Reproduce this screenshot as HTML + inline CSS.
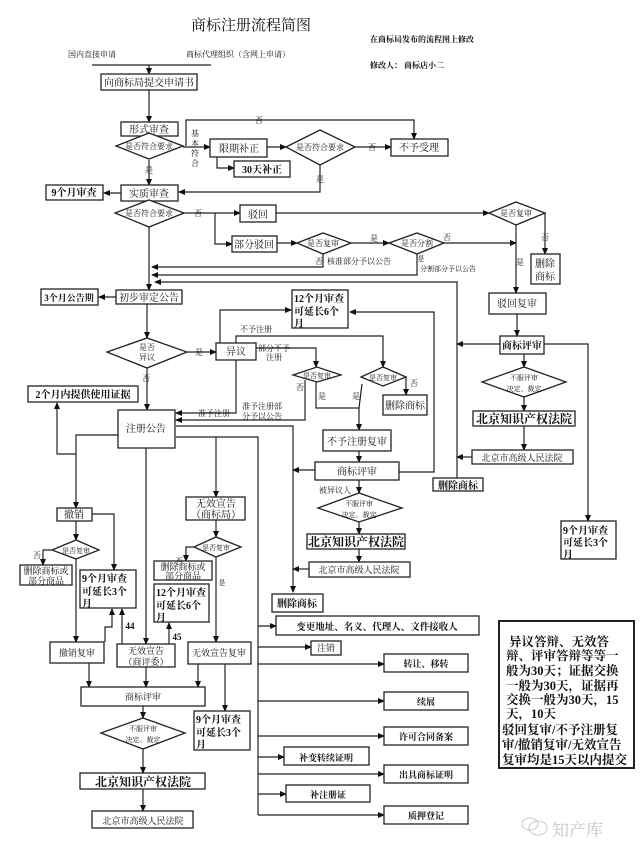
<!DOCTYPE html>
<html><head><meta charset="utf-8"><style>
html,body{margin:0;padding:0;background:#fff;}
svg{display:block;}
text{font-family:"Liberation Serif","Noto Serif CJK SC",serif;fill:#111;}
.b{font-weight:bold;}
</style></head><body>
<svg width="640" height="858" viewBox="0 0 640 858" xmlns="http://www.w3.org/2000/svg">
<defs><marker id="a" markerWidth="7" markerHeight="7" refX="6" refY="3.5" orient="auto" markerUnits="userSpaceOnUse"><path d="M0,0.5 L7,3.5 L0,6.5z" fill="#111"/></marker></defs>
<g fill="none" stroke="#222" stroke-width="1.2">
<!-- top -->
<line x1="92" y1="65" x2="211" y2="65"/>
<line x1="149" y1="65" x2="149" y2="74" marker-end="url(#a)"/>
<line x1="149" y1="90" x2="149" y2="122" marker-end="url(#a)"/>
<line x1="149" y1="136" x2="149" y2="133"/>
<polyline points="186,146 186,120 414,120 414,139" marker-end="url(#a)"/>
<line x1="183" y1="147" x2="210" y2="147" marker-end="url(#a)"/>
<line x1="267" y1="147" x2="286" y2="147" marker-end="url(#a)"/>
<line x1="355" y1="147" x2="391" y2="147" marker-end="url(#a)"/>
<polyline points="217,157 217,168 234,168" marker-end="url(#a)"/>
<polyline points="320,165 320,192 179,192" marker-end="url(#a)"/>
<line x1="149" y1="160" x2="149" y2="185" marker-end="url(#a)"/>
<line x1="121" y1="193" x2="104" y2="193" marker-end="url(#a)"/>
<line x1="149" y1="201" x2="149" y2="200"/>
<line x1="184" y1="213" x2="240" y2="213" marker-end="url(#a)"/>
<polyline points="215,213 215,244 232,244" marker-end="url(#a)"/>
<line x1="276" y1="213" x2="489" y2="213" marker-end="url(#a)"/>
<line x1="277" y1="243" x2="297" y2="243" marker-end="url(#a)"/>
<line x1="351" y1="243" x2="389" y2="243" marker-end="url(#a)"/>
<line x1="444" y1="243" x2="516" y2="243" marker-end="url(#a)"/>
<polyline points="323,254 323,267 152,267" marker-end="url(#a)"/>
<polyline points="417,254 417,275 152,275" marker-end="url(#a)"/>
<polyline points="457,478 457,282 155,282" marker-end="url(#a)"/>
<line x1="149" y1="227" x2="149" y2="290" marker-end="url(#a)"/>
<polyline points="545,213 545,254" marker-end="url(#a)"/>
<line x1="516" y1="225" x2="516" y2="293" marker-end="url(#a)"/>
<line x1="517" y1="314" x2="517" y2="336" marker-end="url(#a)"/>
<line x1="500" y1="344" x2="457" y2="344" marker-end="url(#a)"/>
<polyline points="544,344 588,344 588,521" marker-end="url(#a)"/>
<line x1="524" y1="354" x2="524" y2="367" marker-end="url(#a)"/>
<line x1="524" y1="397" x2="524" y2="411" marker-end="url(#a)"/>
<line x1="524" y1="426" x2="524" y2="450" marker-end="url(#a)"/>
<line x1="472" y1="457" x2="457" y2="457" marker-end="url(#a)"/>
<!-- middle -->
<line x1="116" y1="297" x2="99" y2="297" marker-end="url(#a)"/>
<line x1="147" y1="304" x2="147" y2="338" marker-end="url(#a)"/>
<line x1="187" y1="352" x2="216" y2="352" marker-end="url(#a)"/>
<line x1="147" y1="368" x2="147" y2="410" marker-end="url(#a)"/>
<polyline points="220,343 220,310 291,310" marker-end="url(#a)"/>
<polyline points="236,343 236,336 383,336 383,367" marker-end="url(#a)"/>
<polyline points="256,348 316,348 316,367" marker-end="url(#a)"/>
<polyline points="305,380 305,420 176,420" marker-end="url(#a)"/>
<polyline points="316,382 316,408 359,408 359,430" marker-end="url(#a)"/>
<line x1="362" y1="384" x2="359" y2="408"/>
<polyline points="406,377 406,395" marker-end="url(#a)"/>
<polyline points="236,360 236,413 176,413" marker-end="url(#a)"/>
<line x1="359" y1="451" x2="359" y2="462" marker-end="url(#a)"/>
<polyline points="399,472 434,472 434,312 350,312" marker-end="url(#a)"/>
<line x1="315" y1="470" x2="293" y2="470" marker-end="url(#a)"/>
<line x1="359" y1="480" x2="359" y2="493" marker-end="url(#a)"/>
<line x1="359" y1="522" x2="359" y2="534" marker-end="url(#a)"/>
<line x1="359" y1="549" x2="359" y2="562" marker-end="url(#a)"/>
<line x1="309" y1="569" x2="293" y2="569" marker-end="url(#a)"/>
<polyline points="176,426 293,426 293,592" marker-end="url(#a)"/>
<polyline points="176,437 258,437 258,815"/>
<polyline points="216,437 216,497" marker-end="url(#a)"/>
<polyline points="118,435 76,435 76,508" marker-end="url(#a)"/>
<polyline points="76,454 57,454 57,403" marker-end="url(#a)"/>
<line x1="146" y1="448" x2="146" y2="644" marker-end="url(#a)"/>
<!-- bottom left -->
<line x1="76" y1="521" x2="76" y2="540" marker-end="url(#a)"/>
<polyline points="92,514 114,514 114,570" marker-end="url(#a)"/>
<polyline points="52,550 43,550 43,565" marker-end="url(#a)"/>
<line x1="76" y1="559" x2="76" y2="642" marker-end="url(#a)"/>
<polyline points="105,642 105,627 112,627 112,609" marker-end="url(#a)"/>
<line x1="122" y1="644" x2="122" y2="609" marker-end="url(#a)"/>
<line x1="169" y1="644" x2="169" y2="623" marker-end="url(#a)"/>
<line x1="216" y1="520" x2="216" y2="537" marker-end="url(#a)"/>
<polyline points="194,547 186,547 186,561" marker-end="url(#a)"/>
<line x1="216" y1="557" x2="216" y2="642" marker-end="url(#a)"/>
<line x1="89" y1="663" x2="89" y2="687" marker-end="url(#a)"/>
<line x1="146" y1="667" x2="146" y2="687" marker-end="url(#a)"/>
<line x1="198" y1="664" x2="198" y2="687" marker-end="url(#a)"/>
<line x1="225" y1="664" x2="225" y2="711" marker-end="url(#a)"/>
<line x1="143" y1="706" x2="143" y2="718" marker-end="url(#a)"/>
<line x1="143" y1="749" x2="143" y2="773" marker-end="url(#a)"/>
<line x1="143" y1="789" x2="143" y2="811" marker-end="url(#a)"/>
<!-- branches -->
<line x1="258" y1="626" x2="276" y2="626" marker-end="url(#a)"/>
<line x1="258" y1="647" x2="311" y2="647" marker-end="url(#a)"/>
<line x1="258" y1="664" x2="384" y2="664" marker-end="url(#a)"/>
<line x1="258" y1="701" x2="384" y2="701" marker-end="url(#a)"/>
<line x1="258" y1="736" x2="384" y2="736" marker-end="url(#a)"/>
<line x1="258" y1="757" x2="284" y2="757" marker-end="url(#a)"/>
<line x1="258" y1="774" x2="384" y2="774" marker-end="url(#a)"/>
<line x1="258" y1="794" x2="286" y2="794" marker-end="url(#a)"/>
<line x1="258" y1="815" x2="384" y2="815" marker-end="url(#a)"/>
</g>
<!-- boxes -->
<g fill="#fff" stroke="#222" stroke-width="1.3">
<rect x="101" y="74" width="96" height="16"/>
<rect x="121" y="122" width="57" height="14"/>
<rect x="210" y="139" width="57" height="18"/>
<rect x="234" y="161" width="56" height="16"/>
<rect x="391" y="139" width="57" height="17"/>
<rect x="121" y="185" width="57" height="16"/>
<rect x="46" y="185" width="57" height="15"/>
<rect x="240" y="205" width="36" height="17"/>
<rect x="232" y="236" width="45" height="16"/>
<rect x="531" y="254" width="29" height="30"/>
<rect x="41" y="289" width="57" height="16"/>
<rect x="116" y="290" width="66" height="14"/>
<rect x="292" y="290" width="56" height="38"/>
<rect x="489" y="293" width="57" height="21"/>
<rect x="500" y="336" width="44" height="18"/>
<rect x="216" y="343" width="40" height="17"/>
<rect x="28" y="386" width="110" height="16"/>
<rect x="383" y="395" width="44" height="20"/>
<rect x="473" y="411" width="102" height="15"/>
<rect x="118" y="410" width="57" height="38"/>
<rect x="323" y="430" width="68" height="21"/>
<rect x="472" y="450" width="101" height="14"/>
<rect x="315" y="462" width="84" height="18"/>
<rect x="433" y="478" width="50" height="13"/>
<rect x="186" y="497" width="59" height="23"/>
<rect x="57" y="508" width="35" height="13"/>
<rect x="561" y="521" width="55" height="38"/>
<rect x="307" y="534" width="98" height="15"/>
<rect x="20" y="565" width="52" height="20"/>
<rect x="154" y="561" width="58" height="19"/>
<rect x="309" y="562" width="101" height="15"/>
<rect x="80" y="570" width="56" height="38"/>
<rect x="154" y="584" width="55" height="38"/>
<rect x="272" y="594" width="51" height="18"/>
<rect x="276" y="616" width="203" height="19"/>
<rect x="311" y="641" width="30" height="14"/>
<rect x="50" y="642" width="54" height="21"/>
<rect x="117" y="644" width="58" height="23"/>
<rect x="188" y="642" width="63" height="22"/>
<rect x="384" y="654" width="84" height="18"/>
<rect x="81" y="687" width="124" height="19"/>
<rect x="384" y="692" width="84" height="18"/>
<rect x="194" y="711" width="56" height="39"/>
<rect x="384" y="727" width="84" height="18"/>
<rect x="284" y="747" width="85" height="18"/>
<rect x="384" y="765" width="84" height="18"/>
<rect x="80" y="773" width="125" height="16"/>
<rect x="286" y="785" width="84" height="17"/>
<rect x="384" y="806" width="84" height="18"/>
<rect x="92" y="811" width="101" height="17"/>
<rect x="499" y="621" width="135" height="147" stroke-width="2"/>
<!-- diamonds -->
<polygon points="116,146 149,133 183,146 149,159"/>
<polygon points="286,147 320,130 355,147 320,165"/>
<polygon points="115,213 149,200 184,213 149,227"/>
<polygon points="489,213 516,202 545,213 516,225"/>
<polygon points="297,243 323,233 351,243 323,254"/>
<polygon points="389,243 417,233 444,243 417,254"/>
<polygon points="107,352 147,338 187,352 147,368"/>
<polygon points="482,382 524,367 566,382 524,397"/>
<polygon points="293,375 317,367 341,375 317,382"/>
<polygon points="361,377 383,367 406,377 383,386"/>
<polygon points="318,508 359,493 402,508 359,522"/>
<polygon points="52,550 76,540 99,550 76,559"/>
<polygon points="194,547 216,537 241,547 216,557"/>
<polygon points="101,733 143,718 185,733 143,749"/>
</g>
<!-- text -->
<g font-size="10" text-anchor="middle">
<text x="251" y="30" font-size="15">商标注册流程简图</text>
<text x="370" y="42" font-size="8" text-anchor="start" class="b">在商标局发布的流程图上修改</text>
<text x="370" y="68" font-size="8" text-anchor="start" class="b">修改人： 商标店小二</text>
<text x="68" y="57" font-size="8" text-anchor="start">国内直接申请</text>
<text x="186" y="57" font-size="8" text-anchor="start">商标代理组织（含网上申请）</text>
<text x="149" y="86">向商标局提交申请书</text>
<text x="149" y="133">形式审查</text>
<text x="149" y="149" font-size="8">是否符合要求</text>
<text x="259" y="123" font-size="8">否</text>
<text x="195" y="136" font-size="8">基</text><text x="195" y="146" font-size="8">本</text><text x="195" y="156" font-size="8">符</text><text x="195" y="166" font-size="8">合</text>
<text x="239" y="152">限期补正</text>
<text x="320" y="150" font-size="8">是否符合要求</text>
<text x="372" y="150" font-size="8">否</text>
<text x="419" y="151">不予受理</text>
<text x="262" y="173" class="b">30天补正</text>
<text x="320" y="182" font-size="8">是</text>
<text x="149" y="173" font-size="8">是</text>
<text x="149" y="197">实质审查</text>
<text x="74" y="196" class="b">9个月审查</text>
<text x="149" y="216" font-size="8">是否符合要求</text>
<text x="198" y="216" font-size="8">否</text>
<text x="258" y="218">驳回</text>
<text x="254" y="248">部分驳回</text>
<text x="516" y="216" font-size="8">是否复审</text>
<text x="323" y="246" font-size="8">是否复审</text>
<text x="374" y="241" font-size="8">是</text>
<text x="417" y="246" font-size="8">是否分割</text>
<text x="447" y="240" font-size="8">否</text>
<text x="319" y="264" font-size="8">否</text>
<text x="327" y="264" font-size="8" text-anchor="start">核准部分予以公告</text>
<text x="421" y="261" font-size="7">是</text>
<text x="420" y="271" font-size="7" text-anchor="start">分割部分予以公告</text>
<text x="545" y="240" font-size="8">否</text>
<text x="520" y="265" font-size="8">是</text>
<text x="545" y="267">删除</text><text x="545" y="280">商标</text>
<text x="69" y="301" font-size="9" class="b">3个月公告期</text>
<text x="149" y="301">初步审定公告</text>
<text x="294" y="302" text-anchor="start" class="b">12个月审查</text>
<text x="294" y="315" text-anchor="start" class="b">可延长6个</text>
<text x="294" y="327" text-anchor="start" class="b">月</text>
<text x="517" y="307">驳回复审</text>
<text x="522" y="349" class="b">商标评审</text>
<text x="147" y="350" font-size="8">是否</text><text x="147" y="360" font-size="8">异议</text>
<text x="199" y="355" font-size="8">是</text>
<text x="236" y="355">异议</text>
<text x="146" y="381" font-size="8">否</text>
<text x="256" y="332" font-size="8">不予注册</text>
<text x="274" y="351" font-size="8">部分不予</text>
<text x="274" y="360" font-size="8">注册</text>
<text x="524" y="380" font-size="7">不服评审</text><text x="524" y="391" font-size="7">决定、裁定</text>
<text x="317" y="378" font-size="7">是否复审</text>
<text x="383" y="380" font-size="7">是否复审</text>
<text x="300" y="390" font-size="8">否</text>
<text x="322" y="399" font-size="8">是</text>
<text x="356" y="399" font-size="8">是</text>
<text x="414" y="386" font-size="8">否</text>
<text x="83" y="398" class="b">2个月内提供使用证据</text>
<text x="405" y="409">删除商标</text>
<text x="524" y="423" font-size="12" class="b">北京知识产权法院</text>
<text x="214" y="416" font-size="8">准予注册</text>
<text x="262" y="409" font-size="8">准予注册部</text>
<text x="262" y="419" font-size="8">分予以公告</text>
<text x="146" y="432">注册公告</text>
<text x="357" y="445">不予注册复审</text>
<text x="522" y="461" font-size="9">北京市高级人民法院</text>
<text x="357" y="475">商标评审</text>
<text x="458" y="489" class="b">删除商标</text>
<text x="335" y="493" font-size="8">被异议人</text>
<text x="216" y="507">无效宣告</text><text x="216" y="518">（商标局）</text>
<text x="74" y="518">撤销</text>
<text x="359" y="506" font-size="7">不服评审</text><text x="359" y="517" font-size="7">决定、裁定</text>
<text x="563" y="534" text-anchor="start" class="b">9个月审查</text>
<text x="563" y="546" text-anchor="start" class="b">可延长3个</text>
<text x="563" y="558" text-anchor="start" class="b">月</text>
<text x="356" y="546" font-size="12" class="b">北京知识产权法院</text>
<text x="76" y="553" font-size="7">是否复审</text>
<text x="216" y="550" font-size="7">是否复审</text>
<text x="37" y="558" font-size="8">否</text>
<text x="179" y="564" font-size="8">否</text>
<text x="222" y="585" font-size="7">是</text>
<text x="46" y="574" font-size="9">删除商标或</text><text x="46" y="584" font-size="9">部分商品</text>
<text x="183" y="570" font-size="9">删除商标或</text><text x="183" y="579" font-size="9">部分商品</text>
<text x="359" y="573" font-size="9">北京市高级人民法院</text>
<text x="82" y="582" text-anchor="start" class="b">9个月审查</text>
<text x="82" y="595" text-anchor="start" class="b">可延长3个</text>
<text x="82" y="607" text-anchor="start" class="b">月</text>
<text x="156" y="596" text-anchor="start" class="b">12个月审查</text>
<text x="156" y="609" text-anchor="start" class="b">可延长6个</text>
<text x="156" y="621" text-anchor="start" class="b">月</text>
<text x="297" y="607" class="b">删除商标</text>
<text x="377" y="630" font-size="9.5" class="b">变更地址、名义、代理人、文件接收人</text>
<text x="130" y="629" font-size="9" class="b">44</text>
<text x="177" y="640" font-size="9" class="b">45</text>
<text x="326" y="651" font-size="9">注销</text>
<text x="77" y="656" font-size="9">撤销复审</text>
<text x="146" y="654" font-size="9">无效宣告</text><text x="146" y="665" font-size="9">（商评委）</text>
<text x="219" y="656" font-size="9">无效宣告复审</text>
<text x="426" y="667" font-size="9" class="b">转让、移转</text>
<text x="143" y="700" font-size="9">商标评审</text>
<text x="426" y="705" font-size="9" class="b">续展</text>
<text x="196" y="723" text-anchor="start" class="b">9个月审查</text>
<text x="196" y="736" text-anchor="start" class="b">可延长3个</text>
<text x="196" y="748" text-anchor="start" class="b">月</text>
<text x="143" y="731" font-size="7">不服评审</text><text x="143" y="742" font-size="7">决定、裁定</text>
<text x="426" y="740" font-size="9" class="b">许可合同备案</text>
<text x="326" y="761" font-size="9" class="b">补变转续证明</text>
<text x="426" y="778" font-size="9" class="b">出具商标证明</text>
<text x="143" y="786" font-size="12" class="b">北京知识产权法院</text>
<text x="328" y="798" font-size="9" class="b">补注册证</text>
<text x="426" y="819" font-size="9" class="b">质押登记</text>
<text x="143" y="824" font-size="9">北京市高级人民法院</text>
</g>
<g font-size="12.5" class="b">
<text x="509" y="646">异议答辩、无效答</text>
<text x="506" y="660">辩、评审答辩等等一</text>
<text x="506" y="675">般为30天；证据交换</text>
<text x="506" y="690">一般为30天，证据再</text>
<text x="506" y="704">交换一般为30天，15</text>
<text x="506" y="718">天，10天</text>
<text x="502" y="734">驳回复审/不予注册复</text>
<text x="502" y="749">审/撤销复审/无效宣告</text>
<text x="502" y="764">复审均是15天以内提交</text>
</g>
<g opacity="0.45">
<ellipse cx="538" cy="828" rx="9" ry="7" fill="none" stroke="#888" stroke-width="1"/>
<ellipse cx="530" cy="824" rx="8" ry="6" fill="none" stroke="#888" stroke-width="1"/>
<text x="552" y="836" font-size="17" style="fill:#777" font-family="Liberation Sans,Noto Sans CJK SC,sans-serif">知产库</text>
</g>
</svg>
</body></html>
